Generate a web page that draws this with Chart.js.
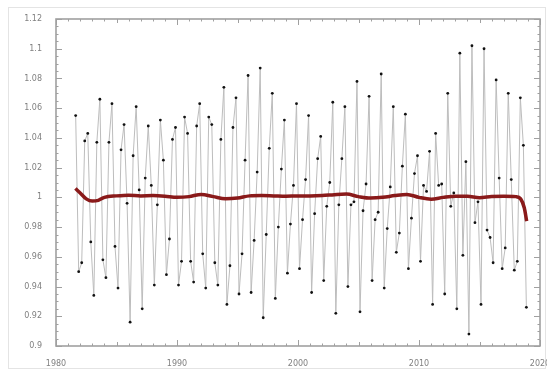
<!DOCTYPE html>
<html>
<head>
<meta charset="utf-8">
<script src="https://cdn.jsdelivr.net/npm/chart.js@4"></script>
<style>
  html,body{margin:0;padding:0;background:#fff;}
  #wrap{position:relative;width:547px;height:370px;}
</style>
</head>
<body>
<div id="wrap"><canvas id="c" width="547" height="370"></canvas></div>
<script>
// ---- data ----
const quarterStart = 1981.625;   // first observation (quarterly series)
const quarterStep = 0.25;
const seasonalValues = [
  1.055, 0.950, 0.956, 1.038, 1.043, 0.970, 0.934, 1.037, 1.066, 0.958, 0.946, 1.037,
  1.063, 0.967, 0.939, 1.032, 1.049, 0.996, 0.916, 1.028, 1.061, 1.005, 0.925, 1.013,
  1.048, 1.008, 0.941, 0.995, 1.052, 1.025, 0.948, 0.972, 1.039, 1.047, 0.941, 0.957,
  1.054, 1.043, 0.957, 0.943, 1.048, 1.063, 0.962, 0.939, 1.054, 1.049, 0.956, 0.941,
  1.039, 1.074, 0.928, 0.954, 1.047, 1.067, 0.935, 0.962, 1.025, 1.082, 0.936, 0.971,
  1.017, 1.087, 0.919, 0.975, 1.033, 1.070, 0.932, 0.980, 1.019, 1.052, 0.949, 0.982,
  1.008, 1.063,
  0.952, 0.985, 1.012, 1.055, 0.936, 0.989, 1.026, 1.041, 0.944, 0.994, 1.010, 1.064,
  0.922, 0.995, 1.026, 1.061, 0.940, 0.995, 0.997, 1.078, 0.923, 0.991, 1.009, 1.068,
  0.944, 0.985, 0.990, 1.083, 0.939, 0.979, 1.007, 1.061, 0.963, 0.976, 1.021, 1.056,
  0.952, 0.986, 1.016,
  1.028, 0.957, 1.008, 1.004, 1.031, 0.928, 1.043, 1.008, 1.009, 0.935, 1.070, 0.994,
  1.003, 0.925, 1.097, 0.961, 1.024, 0.908, 1.102, 0.983, 0.997, 0.928, 1.100, 0.978,
  0.973, 0.956, 1.079, 1.013, 0.952, 0.966, 1.070, 1.012, 0.951, 0.957, 1.067, 1.035,
  0.926
];
const trendYears = [1981.6, 1982.0, 1982.5, 1983.0, 1983.5, 1984, 1985, 1986, 1987, 1988, 1989,
  1990, 1991, 1992, 1993, 1994, 1995, 1996, 1997, 1998, 1999, 2000, 2001, 2002, 2003, 2004,
  2005, 2006, 2007, 2008, 2009, 2010, 2011, 2012, 2013, 2014, 2015, 2016, 2017, 2018,
  2018.4, 2018.7, 2018.9];
const trendValues = [1.006, 1.003, 0.999, 0.9975, 0.998, 1.000, 1.001, 1.0015, 1.001, 1.0012, 1.0008,
  1.000, 1.0005, 1.002, 1.0005, 0.999, 0.9995, 1.001, 1.0012, 1.001, 1.0008, 1.001, 1.001, 1.0012,
  1.0018, 1.0022, 1.0005, 0.9995, 1.000, 1.0012, 1.002, 1.000, 0.9988, 1.000, 1.0008, 1.0008,
  0.9998, 1.0005, 1.0008, 1.0005, 0.999, 0.993, 0.984];
const xTicks = [1980, 1990, 2000, 2010, 2020];
const yTicks = [0.9, 0.92, 0.94, 0.96, 0.98, 1, 1.02, 1.04, 1.06, 1.08, 1.1, 1.12];

// ---- build ----
const seasonalPts = seasonalValues.map((v, i) => ({x: quarterStart + i * quarterStep, y: v}));
const trendPts = trendYears.map((t, i) => ({x: t, y: trendValues[i]}));

const frameColor = '#a0a0a0';
const framePlugin = {
  id: 'frame',
  beforeDraw(chart) {
    const ctx = chart.ctx;
    ctx.save();
    ctx.fillStyle = '#fff';
    ctx.fillRect(0, 0, chart.width, chart.height);
    ctx.strokeStyle = '#e4e4e4';
    ctx.lineWidth = 1;
    ctx.strokeRect(8.5, 7.5, 537, 361);
    ctx.restore();
  },
  beforeDatasetsDraw(chart) {
    const ctx = chart.ctx;
    const a = chart.chartArea;
    const xs = chart.scales.x, ys = chart.scales.y;
    ctx.save();
    ctx.strokeStyle = frameColor;
    ctx.lineWidth = 1;
    ctx.beginPath();
    // x ticks (minor each year, major each decade), bottom and top, inward
    for (let yr = xs.min; yr <= xs.max; yr += 1) {
      const px = Math.round(xs.getPixelForValue(yr)) + 0.5;
      const major = xTicks.includes(yr);
      const len = major ? 6 : (yr % 5 === 0 ? 4 : 2.5);
      ctx.moveTo(px, a.bottom); ctx.lineTo(px, a.bottom - len);
      ctx.moveTo(px, a.top); ctx.lineTo(px, a.top + len);
    }
    // y ticks (minor each 0.005), left and right, inward
    for (let k = 0; k <= 44; k++) {
      const v = ys.min + k * 0.005;
      const py = Math.round(ys.getPixelForValue(v)) + 0.5;
      const len = (k % 4 === 0) ? 6 : 2.5;
      ctx.moveTo(a.left, py); ctx.lineTo(a.left + len, py);
      ctx.moveTo(a.right, py); ctx.lineTo(a.right - len, py);
    }
    ctx.stroke();
    ctx.lineWidth = 1.6;
    ctx.strokeRect(a.left, a.top, a.right - a.left, a.bottom - a.top);
    ctx.restore();
  }
};

new Chart(document.getElementById('c'), {
  type: 'line',
  data: {
    datasets: [
      {
        data: seasonalPts,
        borderColor: '#bdbdbd',
        borderWidth: 1,
        pointRadius: 1.4,
        pointBackgroundColor: '#111',
        pointBorderWidth: 0,
        tension: 0,
        order: 2
      },
      {
        data: trendPts,
        borderColor: '#8a1a1a',
        borderWidth: 3.5,
        pointRadius: 0,
        cubicInterpolationMode: 'monotone',
        order: 1
      }
    ]
  },
  options: {
    responsive: false,
    devicePixelRatio: 1,
    animation: false,
    events: [],
    layout: {padding: {left: 0, top: 19, right: 7, bottom: 0}},
    plugins: {legend: {display: false}, tooltip: {enabled: false}},
    scales: {
      x: {
        type: 'linear',
        min: 1980, max: 2020,
        border: {display: false},
        grid: {display: false},
        afterBuildTicks(s) { s.ticks = xTicks.map(v => ({value: v})); },
        afterFit(s) { s.height = 24; s.paddingLeft = 0; s.paddingRight = 0; },
        ticks: {
          color: '#808080',
          font: {family: 'DejaVu Sans', size: 8},
          padding: 5,
          maxRotation: 0,
          autoSkip: false,
          callback: v => String(v)
        }
      },
      y: {
        type: 'linear',
        min: 0.9, max: 1.12,
        border: {display: false},
        grid: {display: false},
        afterBuildTicks(s) { s.ticks = yTicks.map(v => ({value: v})); },
        afterFit(s) { s.width = 56; s.paddingTop = 0; s.paddingBottom = 0; },
        ticks: {
          color: '#808080',
          font: {family: 'DejaVu Sans', size: 8},
          padding: 6,
          autoSkip: false,
          callback: v => String(+Number(v).toFixed(2))
        }
      }
    }
  },
  plugins: [framePlugin]
});
</script>
</body>
</html>
